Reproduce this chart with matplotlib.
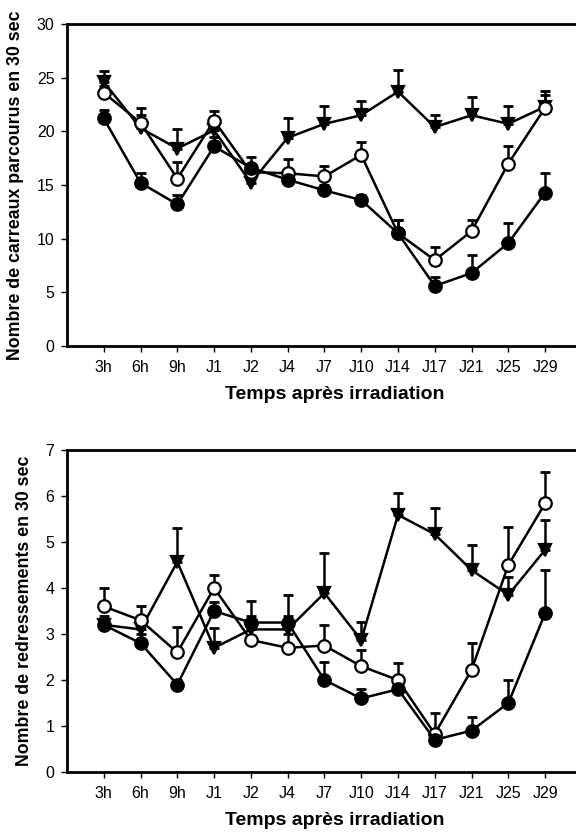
import matplotlib.pyplot as plt

plt.rcParams['font.family'] = ['Liberation Sans', 'DejaVu Sans']

labels = ['3h', '6h', '9h', 'J1', 'J2', 'J4', 'J7', 'J10', 'J14', 'J17', 'J21', 'J25', 'J29']

# Nombre de carreaux parcourus
carr_plein = [21.2, 15.2, 13.2, 18.6, 16.6, 15.5, 14.5, 13.6, 10.5, 5.6, 6.8, 9.6, 14.3]
carr_plein_err = [0.8, 0.9, 0.9, 0.9, 1.0, 0.6, 0.5, 0.5, 1.2, 0.8, 1.7, 1.9, 1.85]
carr_vide = [23.6, 20.8, 15.6, 21.0, 16.2, 16.1, 15.8, 17.8, 10.5, 8.0, 10.7, 17.0, 22.2]
carr_vide_err = [0.6, 1.4, 1.5, 0.9, 0.8, 1.3, 1.0, 1.2, 1.2, 1.2, 1.0, 1.6, 1.2]
carr_tri = [24.6, 20.3, 18.4, 20.1, 15.2, 19.4, 20.7, 21.5, 23.7, 20.4, 21.5, 20.7, 22.3]
carr_tri_err = [1.0, 1.2, 1.8, 1.0, 1.5, 1.8, 1.7, 1.3, 2.0, 1.1, 1.7, 1.7, 1.5]

# Nombre de redressements
red_plein = [3.2, 2.8, 1.9, 3.5, 3.25, 3.25, 2.0, 1.6, 1.8, 0.7, 0.9, 1.5, 3.45]
red_plein_err = [0.2, 0.2, 0.1, 0.2, 0.47, 0.6, 0.4, 0.2, 0.2, 0.1, 0.3, 0.5, 0.95]
red_vide = [3.6, 3.3, 2.6, 4.0, 2.87, 2.7, 2.75, 2.3, 2.0, 0.83, 2.22, 4.5, 5.84]
red_vide_err = [0.4, 0.3, 0.55, 0.28, 0.3, 0.3, 0.45, 0.35, 0.38, 0.45, 0.58, 0.83, 0.68]
red_tri = [3.2, 3.1, 4.57, 2.7, 3.1, 3.1, 3.89, 2.87, 5.59, 5.17, 4.39, 3.85, 4.83]
red_tri_err = [0.1, 0.3, 0.73, 0.43, 0.3, 0.3, 0.87, 0.4, 0.48, 0.57, 0.54, 0.4, 0.65]


def draw_series(ax, y, err, marker, face):
    x = list(range(len(y)))
    zeros = [0] * len(y)
    ax.errorbar(x, y, yerr=[zeros, err], fmt='none', ecolor='black',
                elinewidth=1.8, capsize=3.5, capthick=2, zorder=2)
    ax.plot(x, y, color='black', linewidth=1.8, marker=marker, markersize=9,
            markerfacecolor=face, markeredgecolor='black', markeredgewidth=1.6,
            zorder=3)


def style_axes(ax, ylim, yticks, ylabel):
    ax.set_xlim(-1.0, 12.84)
    ax.set_ylim(*ylim)
    ax.set_yticks(yticks)
    ax.set_xticks(range(len(labels)))
    ax.set_xticklabels(labels)
    ax.tick_params(direction='out', length=4, width=1, labelsize=11.5, pad=5)
    ax.tick_params(axis='x', pad=6)
    for side in ['left', 'bottom', 'top']:
        ax.spines[side].set_linewidth(2)
    ax.spines['right'].set_visible(False)
    ax.set_xlabel('Temps après irradiation', fontsize=14, fontweight='bold')
    ax.xaxis.set_label_coords(0.527, -0.123)
    ax.set_ylabel(ylabel, fontsize=12.8, fontweight='bold', labelpad=9)


fig = plt.figure(figsize=(5.76, 8.34), dpi=100)
ax1 = fig.add_axes([0.1163, 0.5851, 0.8837, 0.3861])
ax2 = fig.add_axes([0.1163, 0.0743, 0.8837, 0.3861])

draw_series(ax1, carr_tri, carr_tri_err, 'v', 'black')
draw_series(ax1, carr_vide, carr_vide_err, 'o', 'white')
draw_series(ax1, carr_plein, carr_plein_err, 'o', 'black')
style_axes(ax1, (0, 30), range(0, 31, 5), 'Nombre de carreaux parcourus en 30 sec')

draw_series(ax2, red_tri, red_tri_err, 'v', 'black')
draw_series(ax2, red_vide, red_vide_err, 'o', 'white')
draw_series(ax2, red_plein, red_plein_err, 'o', 'black')
style_axes(ax2, (0, 7), range(0, 8), 'Nombre de redressements en 30 sec')

fig.savefig('out.png', dpi=100)
